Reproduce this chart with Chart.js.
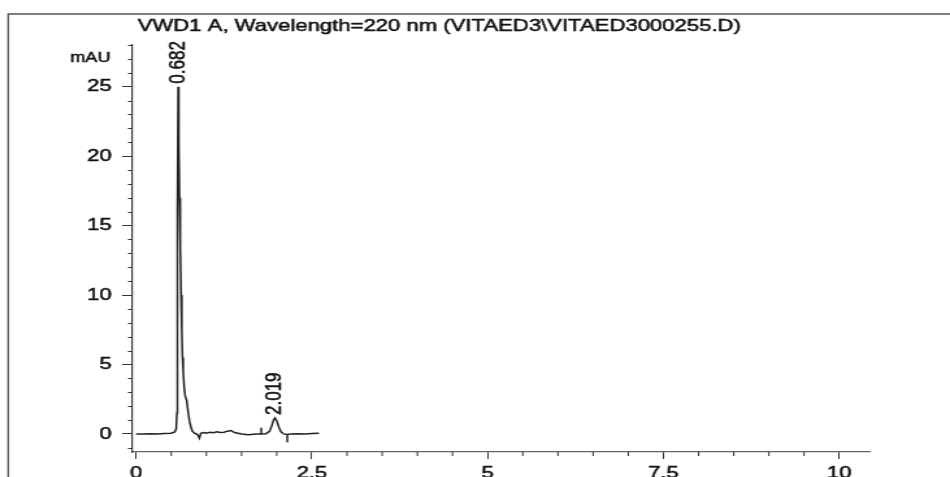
<!DOCTYPE html>
<html lang="en">
<head>
  <meta charset="UTF-8" />
  <title>VWD1 A chromatogram</title>
  <script src="https://cdn.jsdelivr.net/npm/chart.js"></script>
  <style>
    body {
      margin: 0;
      background: #fff;
      overflow: hidden;
    }
    /* the scanned original is stretched sideways, so draw at 731px and widen */
    .wrap {
      position: relative;
      width: 731px;
      height: 477px;
      transform: scaleX(1.2996);
      transform-origin: 0 0;
    }
  </style>
</head>
<body>
  <div class="wrap">
    <canvas id="chrom"></canvas>
  </div>

  <script>
    // retention time (min) and detector signal (mAU)
    const times = [0, 0.1, 0.2, 0.3, 0.4, 0.5, 0.55, 0.57, 0.58, 0.585, 0.59, 0.598, 0.607, 0.617, 0.628,
      0.64, 0.65, 0.66, 0.67, 0.685, 0.70, 0.72, 0.74, 0.76, 0.78, 0.80, 0.83, 0.86, 0.88, 0.90, 0.92,
      0.96, 1.0, 1.05, 1.1, 1.15, 1.2, 1.25, 1.3, 1.35, 1.4, 1.45, 1.5, 1.6, 1.7, 1.78, 1.78, 1.78, 1.85,
      1.9, 1.93, 1.955, 1.975, 2.0, 2.03, 2.06, 2.1, 2.15, 2.15, 2.15, 2.2, 2.3, 2.4, 2.5, 2.6];
    const signal = [0, 0, 0.02, 0, 0.03, 0.05, 0.15, 0.35, 1.5, 6, 16, 25, 21, 17, 13.5,
      10, 7.5, 5.5, 4.5, 3.3, 2.7, 2.4, 1.6, 0.9, 0.5, 0.2, 0.05, 0, -0.1, -0.3, 0.05,
      0.1, 0.05, 0.12, 0.08, 0.15, 0.1, 0.12, 0.2, 0.25, 0.1, 0.05, 0, -0.05, 0, 0, 0.45, 0, 0.02,
      0.2, 0.6, 1.0, 1.15, 0.95, 0.5, 0.15, 0, -0.05, -0.6, -0.05, 0, 0.02, 0, 0.03, 0.05];

    const peakTimes = [0.598, 1.975];
    const peakHeights = [25, 1.15];
    const peakLabels = ['0.682', '2.019'];

    const xTicks = [0, 2.5, 5, 7.5, 10];
    const yTicks = [0, 5, 10, 15, 20, 25];

    const titleText = 'VWD1 A, Wavelength=220 nm (VITAED3\\VITAED3000255.D)';
    const unitText = 'mAU';

    const FONT = '"Liberation Sans", Arial, sans-serif';
    const INK = '#111';

    function inkText(ctx, text, x, y) {
      ctx.strokeText(text, x, y);
      ctx.fillText(text, x, y);
    }

    // frame, title, minor ticks and peak labels
    const decor = {
      id: 'decor',
      afterDraw(chart) {
        const ctx = chart.ctx;
        const x = chart.scales.x, y = chart.scales.y;
        const area = chart.chartArea;
        ctx.save();

        ctx.strokeStyle = '#555';
        ctx.lineWidth = 1.3;
        ctx.beginPath();
        ctx.moveTo(6.3, 477);
        ctx.lineTo(6.3, 14);
        ctx.lineTo(731, 14);
        ctx.stroke();

        ctx.fillStyle = INK;
        ctx.strokeStyle = INK;
        ctx.lineWidth = 0.5;
        ctx.font = '17px ' + FONT;
        ctx.textAlign = 'center';
        ctx.textBaseline = 'alphabetic';
        inkText(ctx, titleText, 338, 31);

        ctx.font = '14px ' + FONT;
        ctx.textAlign = 'right';
        inkText(ctx, unitText, 85, 62);

        // minor ticks
        ctx.strokeStyle = '#333';
        ctx.lineWidth = 1;
        ctx.beginPath();
        for (let v = Math.ceil(y.min); v <= y.max; v++) {
          if (v % 5 === 0) continue;
          const py = Math.round(y.getPixelForValue(v)) + 0.5;
          ctx.moveTo(area.left - 3.5, py);
          ctx.lineTo(area.left, py);
        }
        for (let v = 0.5; v <= x.max; v += 0.5) {
          if (Math.abs(v / 2.5 - Math.round(v / 2.5)) < 1e-6) continue;
          const px = x.getPixelForValue(v);
          ctx.moveTo(px, area.bottom);
          ctx.lineTo(px, area.bottom + 4);
        }
        ctx.stroke();

        // retention time labels above the peaks
        ctx.strokeStyle = INK;
        ctx.lineWidth = 0.5;
        ctx.font = '17px ' + FONT;
        ctx.textAlign = 'left';
        ctx.textBaseline = 'middle';
        peakLabels.forEach((label, i) => {
          const px = x.getPixelForValue(peakTimes[i]);
          const py = y.getPixelForValue(peakHeights[i]);
          ctx.save();
          ctx.translate(px, py - 3);
          ctx.rotate(-Math.PI / 2);
          inkText(ctx, label, 0, 0);
          ctx.restore();
        });

        ctx.restore();
      }
    };

    new Chart(document.getElementById('chrom'), {
      type: 'line',
      data: {
        datasets: [{
          data: times.map((t, i) => ({ x: t, y: signal[i] })),
          borderColor: '#222',
          borderWidth: 1.5,
          pointRadius: 0,
          tension: 0,
          fill: false
        }]
      },
      options: {
        responsive: true,
        maintainAspectRatio: false,
        animation: false,
        layout: { padding: { left: 0, right: 62, top: 45, bottom: 0 } },
        plugins: {
          legend: { display: false },
          tooltip: { enabled: false }
        },
        scales: {
          x: {
            type: 'linear',
            min: -0.05,
            max: 10.43,
            afterBuildTicks: s => { s.ticks = xTicks.map(v => ({ value: v })); },
            afterFit: s => { s.height = 25; },
            border: { display: true, color: '#666', width: 1.2 },
            grid: { drawOnChartArea: false, drawTicks: true, tickLength: 7, color: '#333', tickWidth: 1 },
            ticks: {
              padding: 4,
              maxRotation: 0,
              autoSkip: false,
              color: INK,
              textStrokeColor: INK,
              textStrokeWidth: 0.5,
              font: { family: FONT, size: 17 },
              callback: v => String(v)
            }
          },
          y: {
            type: 'linear',
            min: -1.3,
            max: 28,
            afterBuildTicks: s => { s.ticks = yTicks.map(v => ({ value: v })); },
            afterFit: s => { s.width = 102; },
            border: { display: true, color: '#333', width: 1.2 },
            grid: { drawOnChartArea: false, drawTicks: true, tickLength: 8, color: '#333', tickWidth: 1 },
            ticks: {
              padding: 8,
              autoSkip: false,
              color: INK,
              textStrokeColor: INK,
              textStrokeWidth: 0.5,
              font: { family: FONT, size: 17 },
              callback: v => String(v)
            }
          }
        }
      },
      plugins: [decor]
    });
  </script>
</body>
</html>
